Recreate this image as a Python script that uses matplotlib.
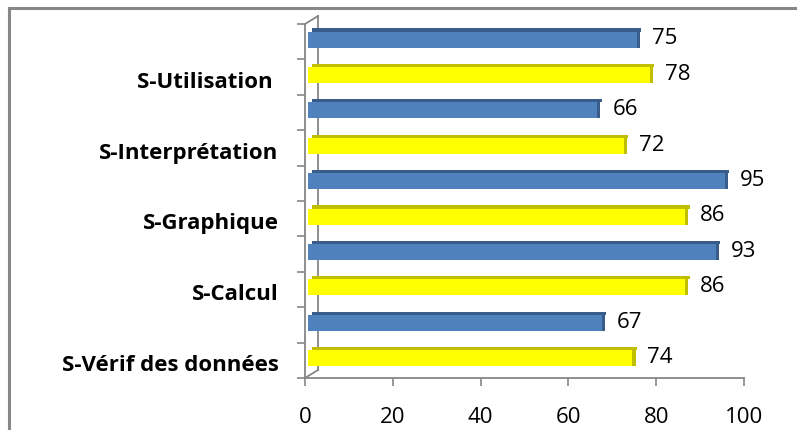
import matplotlib
matplotlib.use("Agg")
import matplotlib.pyplot as plt
from matplotlib.lines import Line2D

categories = ["S-Vérif des données", "S-Calcul", "S-Graphique", "S-Interprétation", "S-Utilisation "]
yellow_values = [74, 86, 86, 72, 78]
blue_values = [67, 93, 95, 66, 75]
x_ticks = [0, 20, 40, 60, 80, 100]

plt.rcParams['font.family'] = ['Open Sans', 'DejaVu Sans']

fig = plt.figure(figsize=(7.97, 4.31), dpi=100)
ax = fig.add_axes([305/797, 1-379/431, 439/797, 354/431])

BLUE, BLUE_D = "#4F81BD", "#385D8A"
YEL, YEL_D = "#FFFF00", "#BFBF00"

rows = []
for i in range(len(categories)):
    rows.append((2*i, yellow_values[i], YEL, YEL_D))
    rows.append((2*i + 1, blue_values[i], BLUE, BLUE_D))

off = 0.06
h = 0.45
t = 0.09
for pos, val, c, cd in rows:
    y = pos + off
    ax.barh(y, val, height=h, left=0.6, color=c, edgecolor='none', zorder=3)
    ax.barh(y + h/2 + t/2, val, height=t, left=0.6 + 1.0, color=cd, edgecolor='none', zorder=3)
    ax.barh(y + t/2, 0.7, height=h + t, left=val + 0.6, color=cd, edgecolor='none', zorder=3)
    ax.text(val + 4.0, y + 0.05, str(val), va='center', ha='left', fontsize=16, color='black')

ax.set_xlim(0, 100)
ax.set_ylim(-0.5, 9.5)
ax.set_xticks(x_ticks)
ax.set_xticklabels([str(t) for t in x_ticks], fontsize=16)

ax.set_yticks([2*i - 0.05 for i in range(len(categories))])
ax.set_yticklabels(categories, fontsize=16, fontweight='bold')
ax.set_yticks([k - 0.5 for k in range(11)], minor=True)
ax.tick_params(axis='y', which='major', length=0, pad=19)
ax.tick_params(axis='y', which='minor', length=6, width=1.2, color='#868686', direction='out')
ax.tick_params(axis='x', length=6, width=1.2, color='#868686', pad=14)

for s in ['top', 'right']:
    ax.spines[s].set_visible(False)
for s in ['left', 'bottom']:
    ax.spines[s].set_color('#868686')
    ax.spines[s].set_linewidth(1.3)

dx, dy = 13/439, 8/354
kw = dict(transform=ax.transAxes, color='#868686', lw=1.3, clip_on=False)
ax.add_line(Line2D([dx, dx], [dy, 1 + dy], **kw))
ax.add_line(Line2D([0, dx], [0, dy], **kw))
ax.add_line(Line2D([0, dx], [1, 1 + dy], **kw))

bkw = dict(transform=fig.transFigure, color='#878787', lw=2.2, clip_on=False)
fig.add_artist(Line2D([8.5/797, 1.0], [1 - 9/431, 1 - 9/431], **bkw))
fig.add_artist(Line2D([8.5/797, 8.5/797], [0, 1 - 9/431], **bkw))

fig.savefig("out.png", dpi=100)
